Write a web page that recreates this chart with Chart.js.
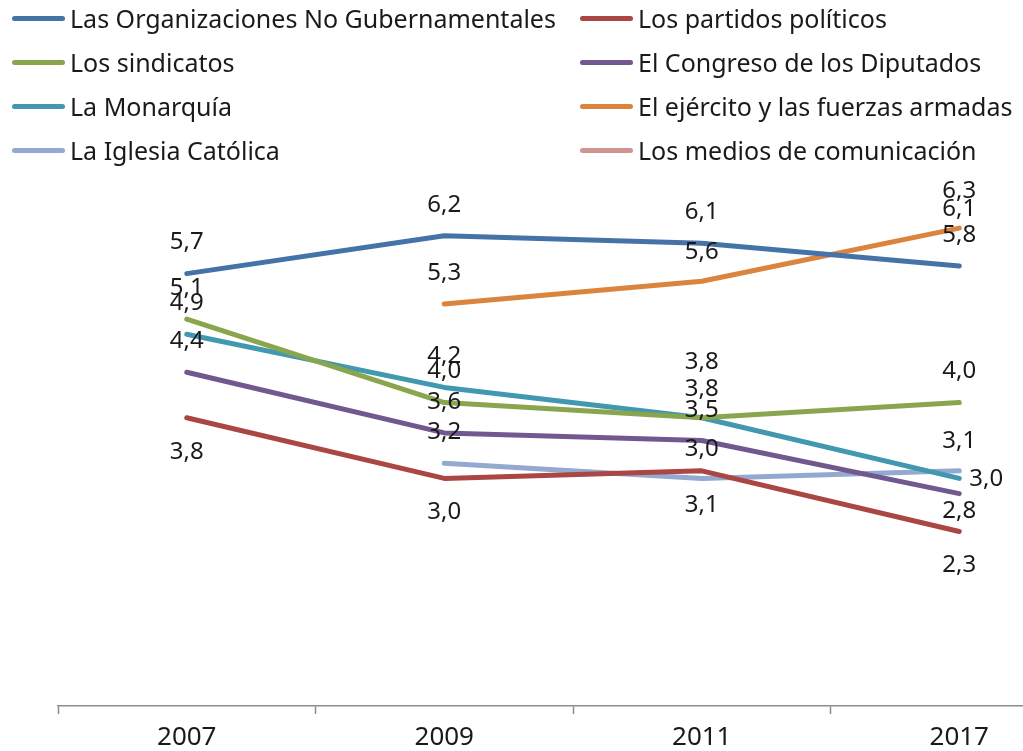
<!DOCTYPE html>
<html>
<head>
<meta charset="utf-8">
<script src="https://cdn.jsdelivr.net/npm/chart.js@4.4.1/dist/chart.umd.min.js"></script>
<style>
    html, body { margin: 0; padding: 0; background: #fff; overflow: hidden; }
    #wrap { position: relative; width: 1023px; height: 751px; overflow: hidden; }
    #chart { position: absolute; left: 0; top: 0; }
    .leg { position: absolute; height: 30px; display: flex; align-items: center; font-family: 'Noto Sans', sans-serif; font-size: 25px; color: #1a1a1a; white-space: nowrap; }
    .leg i { display: inline-block; width: 53px; height: 5px; border-radius: 3px; margin-right: 5px; }
</style>
</head>
<body>
<div id="wrap">
    <canvas id="chart" width="1100" height="751"></canvas>
    <div id="legend"></div>
</div>
<script>
// Chart data
const years = ['2007', '2009', '2011', '2017'];
const ong = [5.7, 6.2, 6.1, 5.8];
const partidos = [3.8, 3.0, 3.1, 2.3];
const sindicatos = [5.1, 4.0, 3.8, 4.0];
const congreso = [4.4, 3.6, 3.5, 2.8];
const monarquia = [4.9, 4.2, 3.8, 3.0];
const ejercito = [null, 5.3, 5.6, 6.3];
const iglesia = [null, 3.2, 3.0, 3.1];
const medios = [null, null, null, 6.1];

// label offsets [dx, dy] per point
const ABOVE = [0, -31];
const BELOW = [0, 34];

const series = [
    { label: 'Las Organizaciones No Gubernamentales', data: ong, color: '#4572A7', offsets: [ABOVE, ABOVE, ABOVE, ABOVE] },
    { label: 'Los partidos políticos', data: partidos, color: '#AA4643', offsets: [BELOW, BELOW, BELOW, BELOW] },
    { label: 'Los sindicatos', data: sindicatos, color: '#89A54E', offsets: [ABOVE, ABOVE, [0, -29], ABOVE] },
    { label: 'El Congreso de los Diputados', data: congreso, color: '#71588F', offsets: [ABOVE, ABOVE, [0, -30], [0, 18]] },
    { label: 'La Monarquía', data: monarquia, color: '#4198AF', offsets: [ABOVE, ABOVE, [0, -56], [27, 1]] },
    { label: 'El ejército y las fuerzas armadas', data: ejercito, color: '#DB843D', offsets: [ABOVE, ABOVE, [0, -29], [0, -37]] },
    { label: 'La Iglesia Católica', data: iglesia, color: '#93A9CF', offsets: [ABOVE, ABOVE, [0, -29], [0, -30]] },
    { label: 'Los medios de comunicación', data: medios, color: '#D19392', offsets: [ABOVE, ABOVE, ABOVE, [0, -34]] }
];

const fmt = v => v.toFixed(1).replace('.', ',');

// Data labels
const valueLabels = {
    id: 'valueLabels',
    afterDatasetsDraw(chart) {
        const ctx = chart.ctx;
        ctx.save();
        ctx.font = '24px "Noto Sans", sans-serif';
        ctx.fillStyle = '#1a1a1a';
        ctx.textAlign = 'center';
        ctx.textBaseline = 'middle';
        chart.data.datasets.forEach((ds, i) => {
            const meta = chart.getDatasetMeta(i);
            meta.data.forEach((pt, j) => {
                const v = ds.data[j];
                if (v === null || v === undefined) return;
                const off = ds.labelOffsets[j];
                ctx.fillText(fmt(v), pt.x + off[0], pt.y + off[1]);
            });
        });
        ctx.restore();
    }
};

const chart = new Chart(document.getElementById('chart'), {
    type: 'line',
    data: {
        labels: years,
        datasets: series.map(s => ({
            label: s.label,
            data: s.data,
            borderColor: s.color,
            backgroundColor: s.color,
            borderWidth: 5,
            // a lone point would leave a dot with round caps
            borderCapStyle: s.data.filter(v => v !== null).length > 1 ? 'round' : 'butt',
            borderJoinStyle: 'round',
            pointRadius: 0,
            pointHoverRadius: 0,
            tension: 0,
            fill: false,
            labelOffsets: s.offsets
        }))
    },
    options: {
        responsive: false,
        animation: false,
        events: [],
        layout: {
            padding: { left: 58, right: 12, top: 175, bottom: 0 }
        },
        plugins: {
            legend: { display: false },
            tooltip: { enabled: false }
        },
        scales: {
            x: {
                offset: true,
                grid: {
                    offset: true,
                    drawOnChartArea: false,
                    tickLength: 8,
                    tickColor: '#8c8c8c',
                    tickWidth: 1.5
                },
                border: { color: '#8c8c8c', width: 1.5 },
                ticks: {
                    color: '#1a1a1a',
                    padding: 8,
                    font: { family: '"Noto Sans", sans-serif', size: 26 }
                },
                afterFit(scale) { scale.height = 45; }
            },
            y: {
                display: false,
                min: 0,
                max: 7
            }
        }
    },
    plugins: [valueLabels]
});

// Legend, two columns
const legend = document.getElementById('legend');
series.forEach((s, i) => {
    const col = i % 2;
    const row = Math.floor(i / 2);
    const el = document.createElement('div');
    el.className = 'leg';
    el.style.left = (col === 0 ? 12 : 580) + 'px';
    el.style.top = (18 + row * 44 - 15) + 'px';
    el.innerHTML = `<i style="background:${s.color}"></i>${s.label}`;
    legend.appendChild(el);
});
</script>
</body>
</html>
